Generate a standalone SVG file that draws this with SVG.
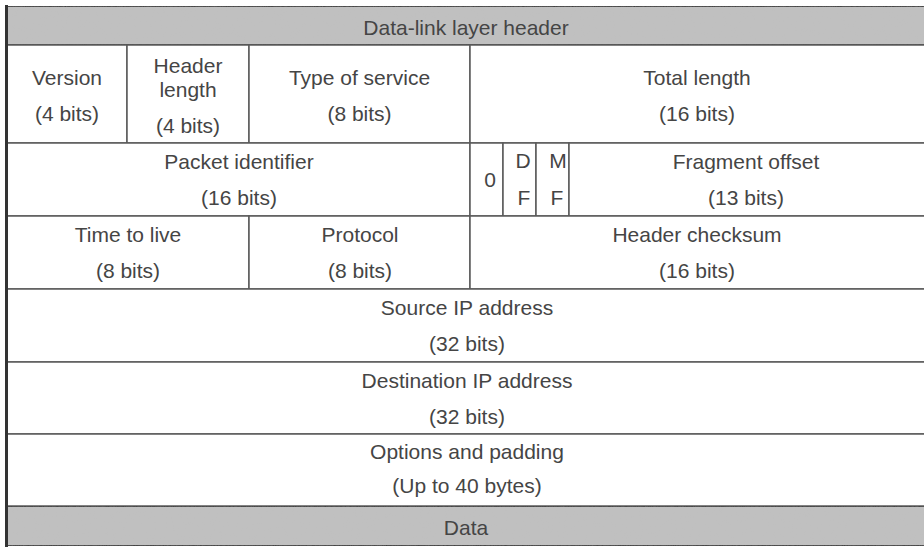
<svg xmlns="http://www.w3.org/2000/svg" width="924" height="547" viewBox="0 0 924 547">
  <style>
    .cell { fill: #ffffff; stroke: #5a5a5a; stroke-width: 1.5; }
    .band { fill: #c0c0c0; stroke: #3a3a3a; stroke-width: 2; }
    .t { font-family: "Liberation Sans", Arial, sans-serif; font-size: 21px; fill: #454545; text-anchor: middle; }
    .edge { stroke: #333333; stroke-width: 3; fill: none; }
  </style>
  <defs>
    <filter id="grain" x="0" y="0" width="100%" height="100%">
      <feTurbulence type="fractalNoise" baseFrequency="0.9" numOctaves="2" seed="4" result="n"/>
      <feColorMatrix in="n" type="matrix" values="0 0 0 0 0.55  0 0 0 0 0.55  0 0 0 0 0.55  0 0 0 0.15 0" result="g"/>
      <feComposite in="g" in2="SourceGraphic" operator="in" result="gm"/>
      <feMerge><feMergeNode in="SourceGraphic"/><feMergeNode in="gm"/></feMerge>
    </filter>
  </defs>

  <rect x="0" y="0" width="924" height="547" fill="#ffffff"/>

  <!-- Data-link layer header band -->
  <g id="dl-header">
    <rect class="band" x="7" y="6" width="922" height="39" filter="url(#grain)"/>
    <text class="t" x="466" y="35">Data-link layer header</text>
  </g>

  <!-- Word 1 -->
  <g id="version">
    <rect class="cell" x="7" y="45" width="120" height="98"/>
    <text class="t" x="67" y="85">Version</text>
    <text class="t" x="67" y="121">(4 bits)</text>
  </g>
  <g id="header-length">
    <rect class="cell" x="127" y="45" width="122" height="98"/>
    <text class="t" x="188" y="73">Header</text>
    <text class="t" x="188" y="97">length</text>
    <text class="t" x="188" y="133">(4 bits)</text>
  </g>
  <g id="type-of-service">
    <rect class="cell" x="249" y="45" width="221" height="98"/>
    <text class="t" x="359.5" y="85">Type of service</text>
    <text class="t" x="359.5" y="121">(8 bits)</text>
  </g>
  <g id="total-length">
    <rect class="cell" x="470" y="45" width="459" height="98"/>
    <text class="t" x="697" y="85">Total length</text>
    <text class="t" x="697" y="121">(16 bits)</text>
  </g>

  <!-- Word 2 -->
  <g id="packet-identifier">
    <rect class="cell" x="7" y="143" width="463" height="73"/>
    <text class="t" x="239" y="169">Packet identifier</text>
    <text class="t" x="239" y="205">(16 bits)</text>
  </g>
  <g id="flag-zero">
    <rect class="cell" x="470" y="143" width="33" height="73"/>
    <text class="t" x="490" y="187">0</text>
  </g>
  <g id="flag-df">
    <rect class="cell" x="503" y="143" width="33" height="73"/>
    <text class="t" x="523" y="168">D</text>
    <text class="t" x="524" y="205">F</text>
  </g>
  <g id="flag-mf">
    <rect class="cell" x="536" y="143" width="33" height="73"/>
    <text class="t" x="558" y="168">M</text>
    <text class="t" x="557" y="205">F</text>
  </g>
  <g id="fragment-offset">
    <rect class="cell" x="569" y="143" width="360" height="73"/>
    <text class="t" x="746" y="169">Fragment offset</text>
    <text class="t" x="746" y="205">(13 bits)</text>
  </g>

  <!-- Word 3 -->
  <g id="time-to-live">
    <rect class="cell" x="7" y="216" width="242" height="73"/>
    <text class="t" x="128" y="242">Time to live</text>
    <text class="t" x="128" y="278">(8 bits)</text>
  </g>
  <g id="protocol">
    <rect class="cell" x="249" y="216" width="221" height="73"/>
    <text class="t" x="360" y="242">Protocol</text>
    <text class="t" x="360" y="278">(8 bits)</text>
  </g>
  <g id="header-checksum">
    <rect class="cell" x="470" y="216" width="459" height="73"/>
    <text class="t" x="697" y="242">Header checksum</text>
    <text class="t" x="697" y="278">(16 bits)</text>
  </g>

  <!-- Addresses -->
  <g id="source-ip">
    <rect class="cell" x="7" y="289" width="922" height="73"/>
    <text class="t" x="467" y="315">Source IP address</text>
    <text class="t" x="467" y="351">(32 bits)</text>
  </g>
  <g id="destination-ip">
    <rect class="cell" x="7" y="362" width="922" height="72"/>
    <text class="t" x="467" y="388">Destination IP address</text>
    <text class="t" x="467" y="424">(32 bits)</text>
  </g>

  <!-- Options -->
  <g id="options">
    <rect class="cell" x="7" y="434" width="922" height="72"/>
    <text class="t" x="467" y="459">Options and padding</text>
    <text class="t" x="467" y="493">(Up to 40 bytes)</text>
  </g>

  <!-- Payload band -->
  <g id="data">
    <rect class="band" x="7" y="506" width="922" height="40" filter="url(#grain)"/>
    <text class="t" x="466" y="535">Data</text>
  </g>

  <!-- heavy left border of the packet -->
  <g id="connectors">
    <line class="edge" x1="6.5" y1="5" x2="6.5" y2="547"/>
  </g>
</svg>
